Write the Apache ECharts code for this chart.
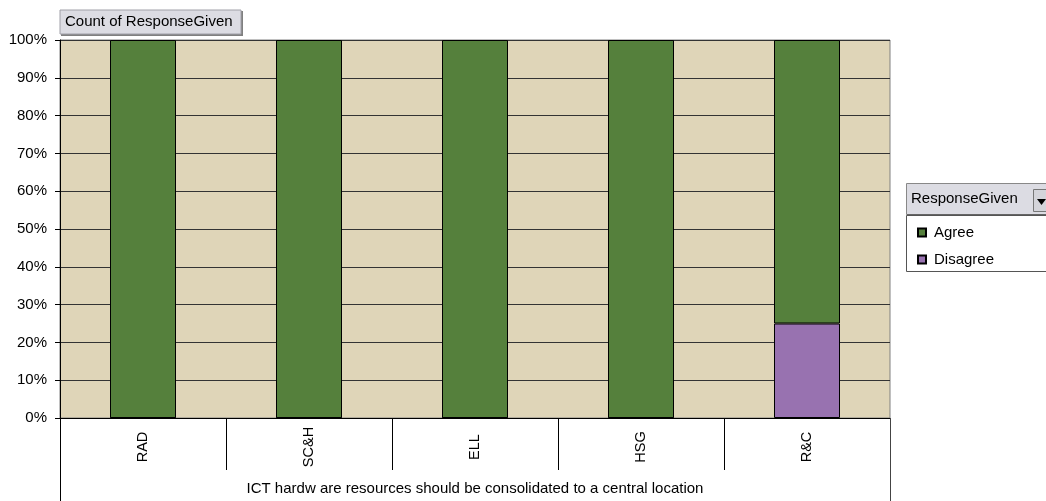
<!DOCTYPE html>
<html>
<head>
<meta charset="utf-8">
<script src="https://cdn.jsdelivr.net/npm/echarts@6/dist/echarts.min.js"></script>
<style>
  html, body { margin: 0; padding: 0; background: #fff; }
  #chart { width: 1046px; height: 501px; }
</style>
</head>
<body>
<div id="chart"></div>
<script>
// Share of responses per group (percent of group total)
const categories = ['RAD', 'SC&H', 'ELL', 'HSG', 'R&C'];
const agree = [100, 100, 100, 100, 75];
const disagree = [0, 0, 0, 0, 25];
const yTicks = { min: 0, max: 100, interval: 10 };
const axisTitle = 'ICT hardw are resources should be consolidated to a central location';
const fieldButton = 'Count of ResponseGiven';
const legendTitle = 'ResponseGiven';

const FONT = 'Liberation Sans, Arial, sans-serif';
const chart = echarts.init(document.getElementById('chart'), null, { renderer: 'canvas' });

const option = {
  animation: false,
  textStyle: { fontFamily: FONT },
  grid: {
    left: 60, right: 156, top: 40, bottom: 83,
    outerBoundsMode: 'none', containLabel: false,
    show: true, backgroundColor: '#DFD5B8', borderColor: '#808080', borderWidth: 1
  },
  xAxis: {
    type: 'category',
    data: categories,
    boundaryGap: true,
    axisLine: { show: true, lineStyle: { color: '#000', width: 1 } },
    axisTick: { show: true, interval: 0, length: 52, lineStyle: { color: '#000' } },
    axisLabel: {
      interval: 0, rotate: 90, margin: 29, align: 'center', verticalAlign: 'middle',
      color: '#000', fontSize: 14.5, fontFamily: FONT
    },
    name: axisTitle,
    nameLocation: 'middle',
    nameGap: 63,
    nameTextStyle: { color: '#000', fontSize: 15, fontFamily: FONT }
  },
  yAxis: {
    type: 'value',
    min: yTicks.min, max: yTicks.max, interval: yTicks.interval,
    axisLine: { show: true, lineStyle: { color: '#000', width: 1 } },
    axisTick: { show: true, length: 5, lineStyle: { color: '#000' } },
    axisLabel: { formatter: '{value}%', color: '#000', fontSize: 15, margin: 13, fontFamily: FONT },
    splitLine: { show: true, lineStyle: { color: '#333', width: 1 } }
  },
  legend: {
    data: ['Agree', 'Disagree'],
    orient: 'vertical',
    left: 912, top: 220,
    itemWidth: 8, itemHeight: 8, itemGap: 12,
    icon: 'rect',
    textStyle: { color: '#000', fontSize: 15, fontFamily: FONT, padding: [0, 0, 0, 3] },
    selectedMode: false
  },
  series: [
    {
      name: 'Disagree', type: 'bar', stack: 'resp', data: disagree, barWidth: 66,
      itemStyle: { color: '#9872B0', borderColor: '#000', borderWidth: 1 }
    },
    {
      name: 'Agree', type: 'bar', stack: 'resp', data: agree, barWidth: 66,
      itemStyle: { color: '#55803C', borderColor: '#000', borderWidth: 1 }
    }
  ],
  graphic: [
    // outer frame lines of the category area
    { type: 'line', shape: { x1: 60.5, y1: 418, x2: 60.5, y2: 501 }, style: { stroke: '#000', lineWidth: 1 }, z: 10 },
    { type: 'line', shape: { x1: 890.5, y1: 418, x2: 890.5, y2: 501 }, style: { stroke: '#444', lineWidth: 1 }, z: 10 },
    // pivot field button
    { type: 'rect', shape: { x: 61, y: 11, width: 182, height: 25 }, style: { fill: '#808080' }, z: 10 },
    { type: 'rect', shape: { x: 60, y: 10, width: 181, height: 24 }, style: { fill: '#DCDCE3', stroke: '#A0A0A8', lineWidth: 1 }, z: 11 },
    { type: 'text', x: 65, y: 22, style: { text: fieldButton, fill: '#000', font: '15px ' + FONT, textVerticalAlign: 'middle' }, z: 12 },
    // legend box
    { type: 'rect', shape: { x: 906.5, y: 215.5, width: 150, height: 56 }, style: { fill: '#fff', stroke: '#555', lineWidth: 1 }, z: 1 },
    { type: 'rect', shape: { x: 906.5, y: 183.5, width: 150, height: 31 }, style: { fill: '#DCDCE3', stroke: '#888', lineWidth: 1 }, z: 10 },
    { type: 'line', shape: { x1: 907, y1: 214.5, x2: 1046, y2: 214.5 }, style: { stroke: '#666', lineWidth: 1 }, z: 11 },
    { type: 'text', x: 911, y: 199, style: { text: legendTitle, fill: '#000', font: '15px ' + FONT, textVerticalAlign: 'middle' }, z: 12 },
    { type: 'rect', shape: { x: 1033.5, y: 189.5, width: 14, height: 22 }, style: { fill: '#D4D4DA', stroke: '#777', lineWidth: 1 }, z: 12 },
    { type: 'polygon', shape: { points: [[1037, 199], [1046, 199], [1041.5, 205]] }, style: { fill: '#000' }, z: 13 }
  ]
};

chart.setOption(option);
</script>
</body>
</html>
